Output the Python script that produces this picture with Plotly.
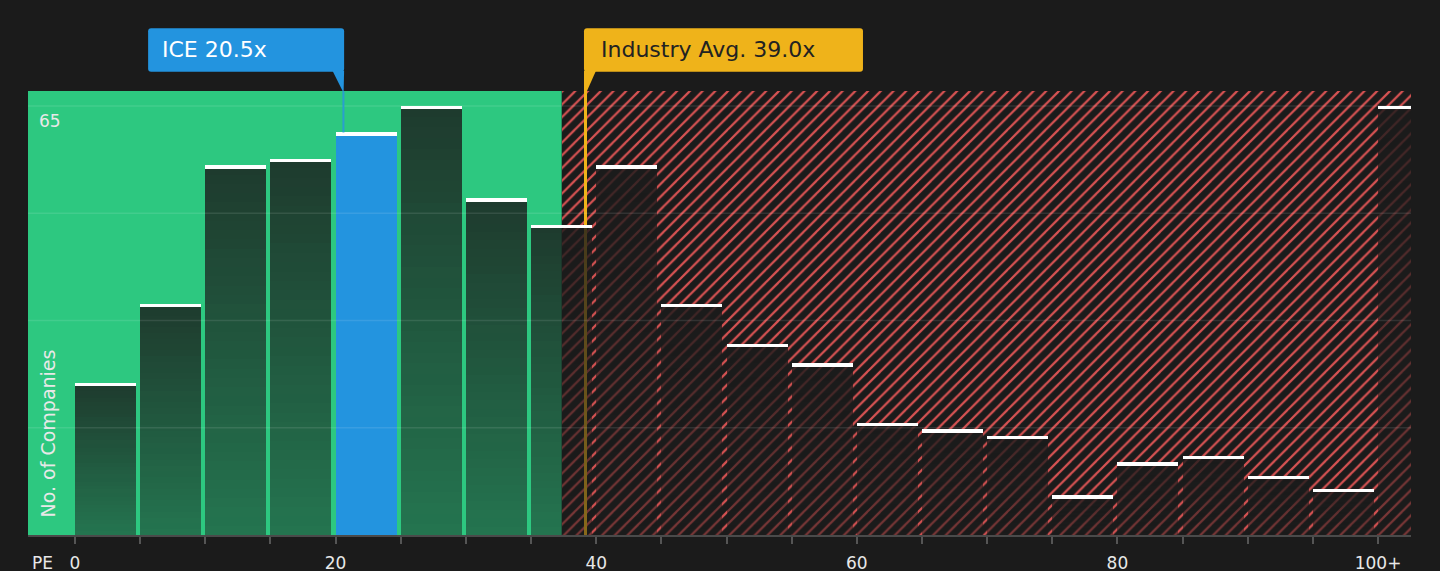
import plotly.graph_objects as go

# ---------------- data ----------------
bin_starts = [0, 5, 10, 15, 20, 25, 30, 35, 40, 45, 50, 55, 60, 65, 70, 75, 80, 85, 90, 95, 100]
counts = [23, 35, 56, 57, 61, 65, 51, 47, 56, 35, 29, 26, 17, 16, 15, 6, 11, 12, 9, 7, 65]
tick_vals = [0, 5, 10, 15, 20, 25, 30, 35, 40, 45, 50, 55, 60, 65, 70, 75, 80, 85, 90, 95, 100]
tick_text = ["0", "", "", "", "20", "", "", "", "40", "", "", "", "60", "", "", "", "80", "", "", "", "100+"]
grid_vals = [16.25, 32.5, 48.75, 65]
company_label = "ICE"
company_pe = 20.5
industry_label = "Industry Avg."
industry_pe = 39.0
good_upper = 37.35
ice_bin = 20

# ---------------- geometry / styles ----------------
W, H = 1440, 571
ML, MR, MT, MB = 28, 29, 91, 36
PW, PH = W - ML - MR, H - MT - MB
X_MIN, X_MAX = -3.607, 102.53
Y_MAX = 67.27
UX = PW / (X_MAX - X_MIN)          # px per x unit
UY = PH / Y_MAX                    # px per y unit

BG = "#1b1b1b"
GREEN = "#2dc880"
BLUE = "#2394df"
YELLOW = "#efb31a"
RED = "#d65252"
TXT = "#e8e8e8"
FONT = "DejaVu Sans"

BAR_W = 61 / UX
IND_OFF = 2.3 / UX   # industry marker line drawn slightly right of its value


def py_to_paper(py):
    return (H - MB - py) / PH


def rounded_rect(x0, x1, y0, y1, rpx=3):
    rx = rpx / UX
    ry = rpx / PH
    return (f"M {x0 + rx},{y0} L {x1 - rx},{y0} Q {x1},{y0} {x1},{y0 + ry} "
            f"L {x1},{y1 - ry} Q {x1},{y1} {x1 - rx},{y1} L {x0 + rx},{y1} "
            f"Q {x0},{y1} {x0},{y1 - ry} L {x0},{y0 + ry} Q {x0},{y0} {x0 + rx},{y0} Z")


fig = go.Figure()

# hatched "expensive" region
fig.add_trace(go.Bar(
    x=[good_upper], y=[Y_MAX], base=[0], width=[X_MAX - good_upper + 5], offset=0,
    marker=dict(color=BG, line=dict(width=0),
                pattern=dict(shape="/", fgcolor=RED, bgcolor=BG, size=9, solidity=0.25,
                             fillmode="replace")),
    hoverinfo="skip", showlegend=False))

# industry average line (beneath bars)
fig.add_trace(go.Bar(
    x=[industry_pe], y=[Y_MAX], base=[0], width=[3 / UX], offset=IND_OFF - 1.5 / UX,
    marker=dict(color=YELLOW, line=dict(width=0)), hoverinfo="skip", showlegend=False))

# histogram bars with a vertical gradient (stacked slices)
N = 40
a_bottom, a_top = 0.48, 0.82
for k in range(N):
    a = a_bottom + (a_top - a_bottom) * (k + 0.5) / N
    cols = [BLUE if s == ice_bin else f"rgba(27,27,27,{a:.3f})" for s in bin_starts]
    fig.add_trace(go.Bar(
        x=bin_starts, y=[c / N for c in counts], base=[c * k / N for c in counts],
        width=BAR_W, offset=0,
        marker=dict(color=cols, line=dict(width=0)), hoverinfo="skip", showlegend=False))

# white caps
cap_h = 3.3 / UY
fig.add_trace(go.Bar(
    x=bin_starts, y=[cap_h] * len(counts), base=[c - cap_h for c in counts],
    width=BAR_W, offset=0,
    marker=dict(color="#ffffff", line=dict(width=0)), hoverinfo="skip", showlegend=False))

shapes = []
# green "good value" region
shapes.append(dict(type="rect", xref="x", yref="paper", x0=X_MIN, x1=good_upper, y0=0, y1=1,
                   fillcolor=GREEN, line=dict(width=0), layer="below"))
# gridlines on top
for g in grid_vals:
    shapes.append(dict(type="line", xref="paper", yref="y", x0=0, x1=1, y0=g, y1=g,
                       line=dict(color="rgba(255,255,255,0.10)", width=1.5), layer="above"))

# ICE pointer line
shapes.append(dict(type="line", xref="x", yref="y", x0=company_pe + 0.1, x1=company_pe + 0.1,
                   y0=61, y1=Y_MAX, line=dict(color="#2a9fcf", width=2), layer="above"))

box_y0 = py_to_paper(71.7)
box_y1 = py_to_paper(28.3)
box_mid = py_to_paper(50)

# ICE box
ice_x1 = company_pe + 2 / UX
ice_x0 = ice_x1 - 196 / UX
shapes.append(dict(type="path", xref="x", yref="paper", path=rounded_rect(ice_x0, ice_x1, box_y0, box_y1),
                   fillcolor=BLUE, line=dict(width=0), layer="above"))
shapes.append(dict(type="path", xref="x", yref="paper",
                   path=f"M {ice_x1 - 11.6 / UX},{box_y0 + 0.002} L {ice_x1},{box_y0 + 0.002} "
                        f"L {ice_x1 - 0.5 / UX},{1.0} L {ice_x1 - 1.5 / UX},{1.0} Z",
                   fillcolor=BLUE, line=dict(width=0), layer="above"))

# Industry box
ind_line = industry_pe + IND_OFF
ind_x0 = industry_pe + 0.8 / UX
ind_x1 = ind_x0 + 279 / UX
shapes.append(dict(type="path", xref="x", yref="paper", path=rounded_rect(ind_x0, ind_x1, box_y0, box_y1),
                   fillcolor=YELLOW, line=dict(width=0), layer="above"))
shapes.append(dict(type="path", xref="x", yref="paper",
                   path=f"M {ind_x0},{box_y0 + 0.002} L {ind_x0 + 12 / UX},{box_y0 + 0.002} "
                        f"L {ind_line + 1.5 / UX},{1.0} L {ind_line - 1.5 / UX},{1.0} Z",
                   fillcolor=YELLOW, line=dict(width=0), layer="above"))

annotations = [
    dict(text=f"{company_label} {company_pe:.1f}x", xref="x", yref="paper", x=ice_x0, y=box_mid,
         xanchor="left", yanchor="middle", xshift=12, showarrow=False,
         font=dict(family=FONT, size=22, color="#ffffff")),
    dict(text=f"{industry_label} {industry_pe:.1f}x", xref="x", yref="paper", x=ind_x0, y=box_mid,
         xanchor="left", yanchor="middle", xshift=15, showarrow=False,
         font=dict(family=FONT, size=22, color="#222222")),
    dict(text="65", xref="paper", yref="y", x=0, y=65, xanchor="left", yanchor="middle",
         xshift=9, yshift=-15, showarrow=False, font=dict(family=FONT, size=17, color=TXT)),
    dict(text="No. of Companies", xref="paper", yref="paper", x=(47.5 - ML) / PW,
         y=py_to_paper(434), xanchor="center", yanchor="middle", textangle=-90, showarrow=False,
         font=dict(family=FONT, size=19, color=TXT)),
    dict(text="PE", xref="paper", yref="paper", x=(42 - ML) / PW, y=py_to_paper(563),
         xanchor="center", yanchor="middle", showarrow=False,
         font=dict(family=FONT, size=17, color=TXT)),
]

fig.update_layout(
    width=W, height=H,
    margin=dict(l=ML, r=MR, t=MT, b=MB, pad=0, autoexpand=False),
    paper_bgcolor=BG, plot_bgcolor=BG,
    barmode="overlay", bargap=0,
    showlegend=False, hovermode=False,
    shapes=shapes, annotations=annotations,
    xaxis=dict(range=[X_MIN, X_MAX], tickmode="array", tickvals=tick_vals, ticktext=tick_text,
               ticks="outside", ticklen=7, tickwidth=1.5, tickcolor="#555555",
               showline=True, linecolor="#4a4a4a", linewidth=2, automargin=False,
               showgrid=False, zeroline=False, ticklabelstandoff=5,
               tickfont=dict(family=FONT, size=17, color=TXT), fixedrange=True),
    yaxis=dict(range=[0, Y_MAX], showticklabels=False, showgrid=False, zeroline=False,
               ticks="", fixedrange=True, automargin=False),
)

fig.write_html("out.html", config={"displayModeBar": False},
               post_script="document.body.style.margin='0';document.body.style.background='#1b1b1b';")
